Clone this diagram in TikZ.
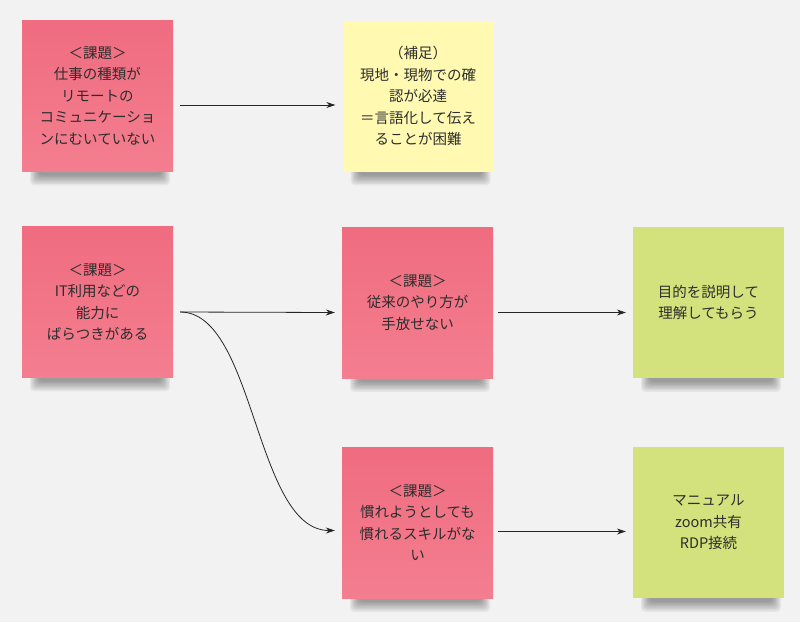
\documentclass[tikz,border=0pt]{standalone}
\usepackage{fontspec}
\setmainfont{Noto Sans CJK JP}
\usepackage{tikz}
\usetikzlibrary{calc,arrows.meta}
\definecolor{bggray}{RGB}{242,242,242}
\definecolor{notepink}{RGB}{240,108,128}
\definecolor{notepinklow}{RGB}{243,126,143}
\definecolor{noteyellow}{RGB}{255,249,177}
\definecolor{notegreen}{RGB}{211,226,124}
\definecolor{inkgray}{RGB}{45,45,45}
\pgfdeclarelayer{drop}
\pgfsetlayers{drop,main}

% soft shadow under the lower edge of a note
\newcommand\notedrop[1]{%
  \begin{pgfonlayer}{drop}
    \foreach \k in {1,...,8}
      \fill[black, opacity=0.05, rounded corners=4pt]
        ($(#1.south west)+(7+1.2*\k,-20)$) rectangle ($(#1.south east)+(-2-1.2*\k,15-1.4*\k)$);
  \end{pgfonlayer}}

\begin{document}
\begin{tikzpicture}[x=1pt, y=-1pt,
  note/.style={rectangle, minimum width=151pt, minimum height=151pt,
    inner sep=0pt, align=center, text=inkgray,
    font=\fontsize{14.5}{21.5}\selectfont},
  issue/.style={note, top color=notepink, bottom color=notepinklow},
  memo/.style={note, fill=noteyellow},
  action/.style={note, fill=notegreen},
  link/.style={-{Stealth[length=9pt, width=6pt]}, line width=0.8pt, black!85},
]
  \begin{pgfonlayer}{drop}
    \fill[bggray] (0,0) rectangle (800,622);
  \end{pgfonlayer}
  \useasboundingbox (0,0) rectangle (800,622);

  % Top row
  \node[issue] (work) at (97.5, 96)
    {＜課題＞\\仕事の種類が\\リモートの\\コミュニケーショ\\ンにむいていない};
  \node[memo] (onsite) at (418, 96)
    {（補足）\\現地・現物での確\\認が必達\\＝言語化して伝え\\ることが困難};
  \draw[link] ([xshift=7pt, yshift=-9pt]work.east)
    -- ([xshift=-7pt, yshift=-9pt]onsite.west);

  % Middle row
  \node[issue] (skill) at (97.5, 302)
    {＜課題＞\\IT利用などの\\能力に\\ばらつきがある};
  \node[issue] (habit) at (417.5, 302.5)
    {＜課題＞\\従来のやり方が\\手放せない};
  \node[action] (explain) at (708.5, 302.5)
    {目的を説明して\\理解してもらう};
  \draw[link] ([xshift=7pt, yshift=-10pt]skill.east)
    -- ([xshift=-7pt, yshift=-10pt]habit.west);
  \draw[link] ([xshift=5pt, yshift=-10pt]habit.east)
    -- ([xshift=-7pt, yshift=-10pt]explain.west);

  % Bottom row
  \node[issue] (unused) at (417.5, 522.5)
    {＜課題＞\\慣れようとしても\\慣れるスキルがな\\い};
  \node[action] (manual) at (708.5, 522.5)
    {マニュアル\\zoom共有\\RDP接続};
  \draw[link] ([xshift=7pt, yshift=-10pt]skill.east)
    .. controls +(75,0) and +(-80,0) .. ([xshift=-7pt, yshift=-8pt]unused.west);
  \draw[link] ([xshift=5pt, yshift=-9pt]unused.east)
    -- ([xshift=-7pt, yshift=-9pt]manual.west);

  % Shadows
  \foreach \n in {work, onsite, skill, habit, explain, unused, manual}
    {\notedrop{\n}}
\end{tikzpicture}
\end{document}
